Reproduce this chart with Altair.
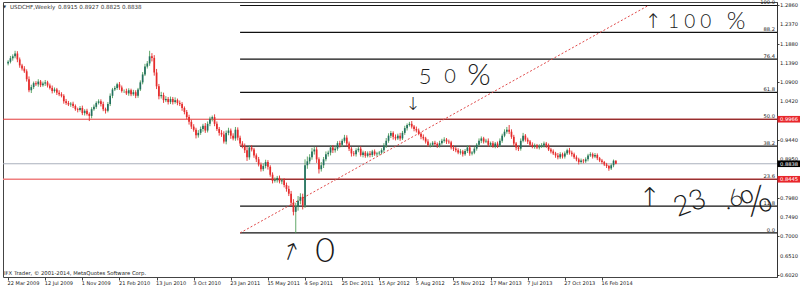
import json
import altair as alt
import pandas as pd

# ---------------- data ----------------
first_date = "2009-03-22"
first_open = 1.1380
closes = [
    1.1420, 1.1510, 1.1560, 1.1630, 1.1480, 1.1330, 1.1250, 1.1180, 1.0980, 1.0700,
    1.0780, 1.0880, 1.0850, 1.0920, 1.0830, 1.0870, 1.0900, 1.0820, 1.0760, 1.0680,
    1.0720, 1.0640, 1.0600, 1.0560, 1.0420, 1.0380, 1.0340, 1.0360, 1.0300, 1.0220,
    1.0200, 1.0250, 1.0120, 1.0180, 1.0100, 1.0050, 1.0220, 1.0280, 1.0380, 1.0420,
    1.0350, 1.0220, 1.0180, 1.0350, 1.0560, 1.0720, 1.0760, 1.0850, 1.0770, 1.0680,
    1.0680, 1.0620, 1.0700, 1.0600, 1.0650, 1.0560, 1.0720, 1.0900, 1.1100, 1.1300,
    1.1380, 1.1560, 1.1520, 1.1150, 1.0800, 1.0550, 1.0580, 1.0450, 1.0480, 1.0400,
    1.0480, 1.0400, 1.0450, 1.0380, 1.0350, 1.0250, 1.0150, 1.0020, 0.9900, 0.9780,
    0.9700, 0.9560, 0.9620, 0.9720, 0.9800, 0.9680, 0.9850, 0.9980, 1.0020, 0.9850,
    0.9720, 0.9620, 0.9580, 0.9400, 0.9620, 0.9680, 0.9550, 0.9480, 0.9700, 0.9500,
    0.9350, 0.9280, 0.9180, 0.9000, 0.9250, 0.9200, 0.9050, 0.8950, 0.8820, 0.8700,
    0.8780, 0.8880, 0.8760, 0.8560, 0.8400, 0.8420, 0.8480, 0.8390, 0.8420, 0.8300,
    0.8200, 0.8080, 0.7850, 0.7620, 0.7750, 0.7900, 0.8000, 0.7780, 0.8800, 0.8900,
    0.9000, 0.9150, 0.9200, 0.8950, 0.8700, 0.8800, 0.8950, 0.9080, 0.9120, 0.9250,
    0.9180, 0.9220, 0.9360, 0.9320, 0.9420, 0.9500, 0.9350, 0.9220, 0.9100, 0.9080,
    0.9180, 0.9220, 0.9060, 0.9120, 0.9040, 0.9100, 0.9060, 0.9150, 0.9080, 0.9100,
    0.9120, 0.9180, 0.9300, 0.9420, 0.9550, 0.9620, 0.9520, 0.9480, 0.9550, 0.9480,
    0.9620, 0.9740, 0.9820, 0.9850, 0.9780, 0.9720, 0.9680, 0.9600, 0.9520, 0.9480,
    0.9400, 0.9310, 0.9320, 0.9370, 0.9340, 0.9300, 0.9360, 0.9420, 0.9450, 0.9400,
    0.9380, 0.9250, 0.9220, 0.9180, 0.9120, 0.9150, 0.9080, 0.9160, 0.9250, 0.9100,
    0.9120, 0.9220, 0.9320, 0.9420, 0.9480, 0.9400, 0.9420, 0.9320, 0.9360, 0.9280,
    0.9350, 0.9300, 0.9420, 0.9550, 0.9650, 0.9700, 0.9650, 0.9520, 0.9350, 0.9250,
    0.9220, 0.9420, 0.9550, 0.9450, 0.9400, 0.9320, 0.9280, 0.9300, 0.9250, 0.9280,
    0.9300, 0.9350, 0.9300, 0.9200, 0.9150, 0.9100, 0.9050, 0.9000, 0.9080, 0.9020,
    0.9100, 0.9180, 0.9120, 0.9080, 0.9000, 0.8950, 0.8880, 0.8920, 0.8900, 0.8950,
    0.9050, 0.9080, 0.9020, 0.9060, 0.8980, 0.8920, 0.8880, 0.8820, 0.8780, 0.8720,
    0.8800, 0.8915, 0.8838,
]
# upper / lower wick lengths in pips
up_pips = [
    40, 60, 50, 70, 60, 50, 40, 60, 50, 70,
    60, 40, 50, 60, 40, 50, 60, 40, 50, 60,
    50, 40, 60, 50, 40, 60, 50, 40, 50, 40,
    40, 50, 60, 40, 50, 40, 50, 60, 40, 50,
    50, 60, 40, 50, 60, 40, 50, 40, 60, 50,
    40, 60, 50, 40, 60, 50, 40, 50, 60, 70,
    60, 140, 80, 70, 90, 60, 80, 60, 70, 50,
    60, 50, 70, 40, 60, 50, 40, 50, 60, 50,
    60, 50, 70, 60, 50, 70, 60, 50, 40, 70,
    60, 50, 70, 80, 60, 70, 50, 60, 70, 60,
    50, 60, 70, 80, 50, 60, 40, 50, 60, 50,
    70, 60, 50, 40, 60, 70, 50, 60, 40, 50,
    60, 80, 70, 90, 100, 120, 90, 80, 150, 120,
    80, 90, 70, 60, 50, 80, 60, 70, 50, 60,
    60, 70, 50, 60, 50, 70, 60, 50, 40, 60,
    50, 40, 60, 50, 40, 50, 60, 40, 50, 40,
    40, 50, 60, 70, 60, 50, 40, 60, 50, 70,
    50, 60, 40, 50, 70, 40, 60, 50, 40, 60,
    40, 60, 50, 40, 50, 40, 60, 50, 60, 40,
    50, 40, 60, 40, 50, 60, 40, 50, 60, 50,
    40, 50, 40, 60, 50, 40, 50, 60, 40, 50,
    40, 50, 60, 50, 60, 70, 120, 60, 50, 40,
    50, 60, 70, 40, 50, 40, 60, 50, 40, 50,
    60, 50, 40, 50, 40, 50, 40, 60, 50, 40,
    50, 40, 60, 50, 40, 50, 40, 50, 40, 50,
    40, 50, 40, 50, 40, 30, 40, 30, 40, 30,
    40, 30, 12,
]
dn_pips = [
    50, 40, 60, 50, 70, 60, 50, 40, 60, 50,
    70, 50, 40, 60, 50, 40, 60, 50, 40, 60,
    40, 60, 50, 40, 60, 50, 40, 60, 50, 40,
    60, 40, 50, 60, 40, 130, 60, 40, 50, 40,
    60, 50, 70, 40, 50, 60, 40, 50, 60, 40,
    50, 40, 60, 50, 40, 60, 50, 40, 50, 40,
    50, 60, 90, 80, 70, 80, 60, 70, 50, 60,
    50, 60, 40, 60, 50, 70, 60, 50, 70, 60,
    50, 80, 60, 50, 70, 60, 50, 60, 70, 60,
    50, 70, 60, 50, 70, 60, 80, 50, 60, 70,
    60, 50, 70, 90, 60, 50, 60, 70, 50, 60,
    50, 60, 70, 50, 60, 40, 60, 50, 70, 60,
    70, 60, 80, 90, 535, 100, 90, 100, 60, 90,
    70, 60, 80, 90, 110, 60, 70, 50, 60, 70,
    70, 60, 50, 70, 60, 50, 70, 60, 80, 50,
    60, 50, 40, 60, 50, 40, 60, 50, 40, 50,
    50, 40, 50, 60, 50, 60, 70, 50, 40, 60,
    40, 50, 60, 40, 50, 60, 50, 40, 60, 50,
    50, 40, 60, 50, 40, 60, 50, 40, 50, 60,
    40, 50, 60, 50, 40, 50, 60, 40, 50, 60,
    50, 40, 50, 40, 60, 50, 40, 50, 60, 40,
    50, 60, 40, 50, 40, 50, 60, 50, 60, 70,
    60, 50, 40, 50, 60, 40, 50, 60, 40, 50,
    40, 50, 60, 40, 50, 40, 60, 50, 40, 50,
    50, 40, 50, 60, 40, 50, 60, 40, 50, 40,
    50, 40, 50, 40, 50, 40, 50, 40, 50, 60,
    40, 50, 13,
]
assert len(closes) == len(up_pips) == len(dn_pips)

date_labels = ["22 Mar 2009", "12 Jul 2009", "1 Nov 2009", "21 Feb 2010", "13 Jun 2010",
               "3 Oct 2010", "23 Jan 2011", "15 May 2011", "4 Sep 2011", "25 Dec 2011",
               "15 Apr 2012", "5 Aug 2012", "25 Nov 2012", "17 Mar 2013", "7 Jul 2013",
               "27 Oct 2013", "16 Feb 2014"]
price_ticks = [1.2860, 1.2370, 1.1880, 1.1390, 1.0900, 1.0420, 0.9440, 0.8950,
               0.7980, 0.7490, 0.7000, 0.6510, 0.6020]

fib_ratios = [0.0, 11.8, 23.6, 38.2, 50.0, 61.8, 76.4, 88.2, 100.0]
fib_anchor_idx = [100, 276]
fib_anchor_price = [0.7085, 1.2847]
red_levels = [0.9966, 0.8445]
last_price = 0.8838

# ---------------- tables ----------------
n = len(closes)
opens = [first_open] + closes[:-1]
candles = pd.DataFrame({
    "i": list(range(n)),
    "open": opens,
    "close": closes,
    "high": [max(o, c) + u / 10000 for o, c, u in zip(opens, closes, up_pips)],
    "low": [min(o, c) - d / 10000 for o, c, d in zip(opens, closes, dn_pips)],
})

p0, p100 = fib_anchor_price
fib = pd.DataFrame({
    "ratio": fib_ratios,
    "price": [p0 + r / 100 * (p100 - p0) for r in fib_ratios],
    "label": [f"{r:.1f}" for r in fib_ratios],
    "start": fib_anchor_idx[0],
})
trend = pd.DataFrame({"i": [fib_anchor_idx[0]], "i2": [fib_anchor_idx[1]],
                      "p": [p0], "p2": [p100]})
boxes = pd.DataFrame({"price": red_levels + [last_price]})
boxes["label"] = [f"{v:.4f}" for v in boxes["price"]]
ticks_df = pd.DataFrame({"price": price_ticks})
ticks_df["label"] = [f"{v:.4f}" for v in price_ticks]

# ---------------- geometry ----------------
W, H = 774, 275
XDOM = [-0.05, 329.31]
YDOM = [0.5969, 1.2936]
FONT = "DejaVu Sans"

xs = alt.Scale(domain=XDOM, nice=False, zero=False)
ys = alt.Scale(domain=YDOM, nice=False, zero=False)

label_expr = json.dumps(date_labels) + "[round(datum.value / 16)]"
x_axis = alt.Axis(values=[16 * k for k in range(len(date_labels))], labelExpr=label_expr,
                  labelAlign="left", labelFontSize=5, labelFont=FONT, labelColor="#222",
                  tickSize=3, tickColor="#444", labelPadding=0, labelOffset=-1,
                  domain=False, grid=False, title=None, labelFlush=False,
                  labelOverlap=False)
y_axis = alt.Axis(orient="right", values=price_ticks, labels=False, tickSize=2,
                  tickColor="#444", domainColor="#333", grid=False, title=None)

UP = "datum.close >= datum.open"
base = alt.Chart(candles)

wicks = base.mark_rule(strokeWidth=0.9, clip=True).encode(
    x=alt.X("i:Q", scale=xs, axis=x_axis),
    y=alt.Y("low:Q", scale=ys, axis=y_axis), y2="high:Q",
    color=alt.condition(UP, alt.value("#4f9e58"), alt.value("#e52b2b")))
bodies = base.mark_bar(size=1.7, clip=True).encode(
    x="i:Q", y=alt.Y("open:Q", scale=ys), y2="close:Q",
    color=alt.condition(UP, alt.value("#22705f"), alt.value("#e52b2b")))

# right-axis price labels drawn as text so every one is shown
tick_text = alt.Chart(ticks_df).mark_text(align="left", baseline="middle", fontSize=5.2,
                                          font=FONT, color="#222").encode(
    x=alt.value(W + 3), y=alt.Y("price:Q", scale=ys), text="label:N")

red_line_a = alt.Chart(pd.DataFrame({"p": [red_levels[0]]})).mark_rule(
    color="#e23a3a", strokeWidth=1).encode(y=alt.Y("p:Q", scale=ys))
red_line_b = alt.Chart(pd.DataFrame({"p": [red_levels[1]]})).mark_rule(
    color="#ef7f7f", strokeWidth=1.4).encode(y=alt.Y("p:Q", scale=ys))
last_line = alt.Chart(pd.DataFrame({"p": [last_price]})).mark_rule(
    color="#aab0bd", strokeWidth=1).encode(y=alt.Y("p:Q", scale=ys))

fib_lines = alt.Chart(fib).mark_rule(strokeWidth=1.2).encode(
    x=alt.X("start:Q", scale=xs), x2=alt.value(W), y=alt.Y("price:Q", scale=ys),
    color=alt.condition("datum.ratio == 50 || datum.ratio == 23.6",
                        alt.value("#7a1a1a"), alt.value("#111111")))
fib_text = alt.Chart(fib).mark_text(align="right", baseline="bottom", dy=-0.3,
                                    fontSize=5.2, font=FONT, color="#222").encode(
    x=alt.value(W - 2), y=alt.Y("price:Q", scale=ys), text="label:N")

trend_line = alt.Chart(trend).mark_rule(color="#e04848", strokeWidth=1,
                                        strokeDash=[2, 2]).encode(
    x=alt.X("i:Q", scale=xs), x2="i2:Q", y=alt.Y("p:Q", scale=ys), y2="p2:Q")

box_rect = alt.Chart(boxes).mark_rect(yOffset=-3.3, y2Offset=3.3).encode(
    x=alt.value(W + 0.5), x2=alt.value(W + 23), y=alt.Y("price:Q", scale=ys), y2="price:Q",
    color=alt.condition(f"datum.price == {last_price}", alt.value("#000000"),
                        alt.value("#e8262b")))
box_text = alt.Chart(boxes).mark_text(align="left", baseline="middle", fontSize=5.2,
                                      font=FONT, color="white").encode(
    x=alt.value(W + 3), y=alt.Y("price:Q", scale=ys), text="label:N")


def note(text, px, py, size, angle=0, font="Lato", weight=300, align="center",
         color="#1a1a1a"):
    kw = dict(text=text, fontSize=size, font=font, fontWeight=weight, align=align,
              baseline="middle", color=color)
    if angle:
        kw["angle"] = angle
    return alt.Chart(pd.DataFrame({"a": [0]})).mark_text(**kw).encode(
        x=alt.value(px - 3), y=alt.value(py - 2))


ARROW = "DejaVu Sans"
notes = [
    note("▼", 4.5, 6.5, 4, font=FONT, weight=400, color="#333"),
    note("USDCHF,Weekly", 10, 6.5, 5.6, font=FONT, weight=400, align="left", color="#333"),
    note("0.8915 0.8927 0.8825 0.8838", 58, 6.5, 5.6, font=FONT, weight=400,
         align="left", color="#333"),
    note("IFX Trader, © 2001-2014, MetaQuotes Software Corp.", 4, 273, 5.3, font=FONT,
         weight=400, align="left", color="#222"),
    # hand-drawn notes
    note("↑", 653, 22, 20, font=ARROW, weight=200),
    note("1 0 0", 668, 22, 19, align="left"),
    note("%", 736, 22, 24),
    note("5", 425, 77, 22),
    note("0", 450, 77, 20),
    note("%", 479, 76, 30),
    note("↓", 413, 105, 18, font=ARROW, weight=200),
    note("↑", 650, 198, 26, font=ARROW, weight=200),
    note("23", 690, 204, 28, angle=340),
    note(".6", 733, 200, 24, angle=340),
    note("%", 757, 203, 38, angle=340),
    note("↑", 290, 253, 24, angle=20, font=ARROW, weight=200),
    note("0", 325, 252, 34),
]

chart = alt.layer(
    red_line_a, red_line_b, last_line, fib_lines, trend_line, wicks, bodies, fib_text,
    tick_text, box_rect, box_text, *notes
).properties(
    width=W, height=H,
    autosize=alt.AutoSizeParams(type="none"),
    padding={"left": 3, "top": 2, "right": 23, "bottom": 11},
    background="white",
).configure_view(stroke="#444", strokeWidth=1)

chart.save("out.html", embed_options={"renderer": "svg", "actions": False})
